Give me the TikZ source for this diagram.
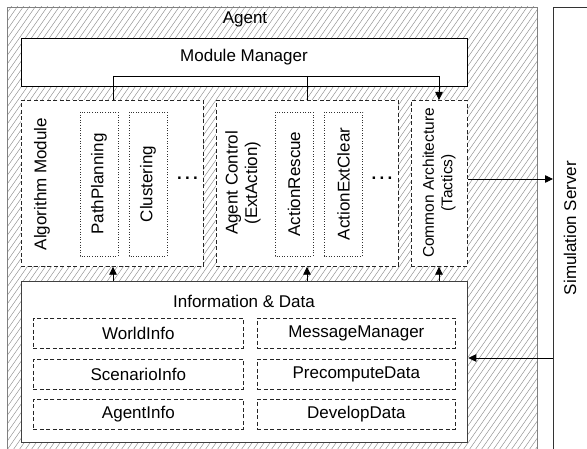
\documentclass[tikz,border=0pt]{standalone}
\usepackage{fontspec}
\setmainfont{Liberation Sans}
\usetikzlibrary{arrows.meta}
\tikzset{
  px/.style={x=1pt,y=-1pt},
  txt/.style={font=\fontsize{17}{19.5}\selectfont, inner sep=0pt},
  whitebox/.style={draw, fill=white, inner sep=0pt, anchor=north west},
  solidbox/.style={whitebox, draw=black, line width=0.8pt},
  infobox/.style={whitebox, draw=black!75, line width=1.3pt},
  dbox/.style={whitebox, draw=black!85, line width=0.7pt, dash pattern=on 4pt off 2.5pt},
  dotbox/.style={draw=black!80, line width=0.6pt, dash pattern=on 1pt off 1.6pt, inner sep=0pt, font=\fontsize{17}{19.5}\selectfont},
  conn/.style={draw=black, line width=0.8pt},
  arr/.style={conn, -{Triangle[length=8pt,width=7.5pt]}},
  hatch/.style={draw=black!45, line width=0.45pt}
}
\begin{document}
\begin{tikzpicture}[px]
\useasboundingbox (0,0) rectangle (587,449);
% Agent area with hatching
\begin{scope}
  \clip (7,7) rectangle (537,460);
  \foreach \x in {-330,-324,...,546} {
    \draw[hatch] (\x,460) -- (\x+322,0);
  }
\end{scope}
\node[draw=black!50, line width=0.8pt, inner sep=0pt, anchor=north west, minimum width=530pt, minimum height=453pt] (agent) at (7,7) {};
\node[txt] (agentlbl) at (245,19) {Agent};
% Simulation server
\node[draw=black!80, line width=1pt, inner sep=0pt, anchor=north west, minimum width=50pt, minimum height=453pt] (sim) at (553,7) {};
\node[txt, rotate=90] (simlbl) at (570,228) {Simulation Server};
% Module manager
\node[solidbox, minimum width=446pt, minimum height=48pt] (mm) at (21,38) {};
\node[txt] (mmlbl) at (244,57) {Module Manager};
% Algorithm module
\node[dbox, minimum width=182pt, minimum height=166pt] (alg) at (21,100) {};
\node[txt, rotate=90] (alglbl) at (42,184) {Algorithm Module};
\node[dotbox, rotate=90, minimum width=144pt, minimum height=38pt] (pp) at (99,184) {PathPlanning};
\node[dotbox, rotate=90, minimum width=144pt, minimum height=38pt] (cl) at (148,184) {Clustering};
\node[txt] (dots1) at (187.5,178) {\bfseries .\hspace{3.2pt}.\hspace{3.2pt}.};
% Agent control
\node[dbox, minimum width=182pt, minimum height=166pt] (ac) at (216,100) {};
\node[txt, rotate=90, align=center] (aclbl) at (243,183) {Agent Control\\(ExtAction)};
\node[dotbox, rotate=90, minimum width=144pt, minimum height=38pt] (ar) at (294,184) {ActionRescue};
\node[dotbox, rotate=90, minimum width=144pt, minimum height=38pt] (aec) at (343.5,184) {ActionExtClear};
\node[txt] (dots2) at (382,178) {\bfseries .\hspace{3.2pt}.\hspace{3.2pt}.};
% Common architecture
\node[dbox, minimum width=56pt, minimum height=166pt] (ca) at (411,100) {};
\node[inner sep=0pt, rotate=90, align=center, font=\fontsize{15.5}{18.5}\selectfont] (calbl) at (439,183) {Common Architecture\\(Tactics)};
% Information & Data
\node[infobox, minimum width=446pt, minimum height=161pt] (info) at (21,281) {};
\node[txt] (infolbl) at (244,301) {Information \& Data};
\node[dbox, minimum width=210pt, minimum height=30pt, txt, anchor=north west] (wi) at (33,318) {WorldInfo};
\node[dbox, minimum width=210pt, minimum height=30pt, txt, anchor=north west] (si) at (33,359) {ScenarioInfo};
\node[dbox, minimum width=210pt, minimum height=30pt, txt, anchor=north west] (ai) at (33,399) {AgentInfo};
\node[dbox, minimum width=198pt, minimum height=30pt, txt, anchor=north west] (msg) at (257,318) {MessageManager};
\node[dbox, minimum width=198pt, minimum height=30pt, txt, anchor=north west] (pd) at (257,359) {PrecomputeData};
\node[dbox, minimum width=198pt, minimum height=30pt, txt, anchor=north west] (dd) at (257,399) {DevelopData};
% Module manager bus
\coordinate (b1) at (113,76);
\coordinate (b2) at (307,76);
\coordinate (b3) at (439,76);
\draw[conn] (b1) -- (b3);
\draw[conn] (b1) -- (b1 |- alg.north);
\draw[conn] (b2) -- (b2 |- ac.north);
\draw[arr] (b3) -- (b3 |- ca.north);
% Info to modules
\draw[arr] (info.north -| b1) -- (alg.south -| b1);
\draw[arr] (info.north -| b2) -- (ac.south -| b2);
\draw[arr] (info.north -| b3) -- (ca.south -| b3);
% To / from server
\coordinate (s1) at (553,179);
\coordinate (s2) at (553,358);
\draw[arr] (ca.east |- s1) -- (sim.west |- s1);
\draw[arr] (sim.west |- s2) -- (info.east |- s2);
\end{tikzpicture}
\end{document}
